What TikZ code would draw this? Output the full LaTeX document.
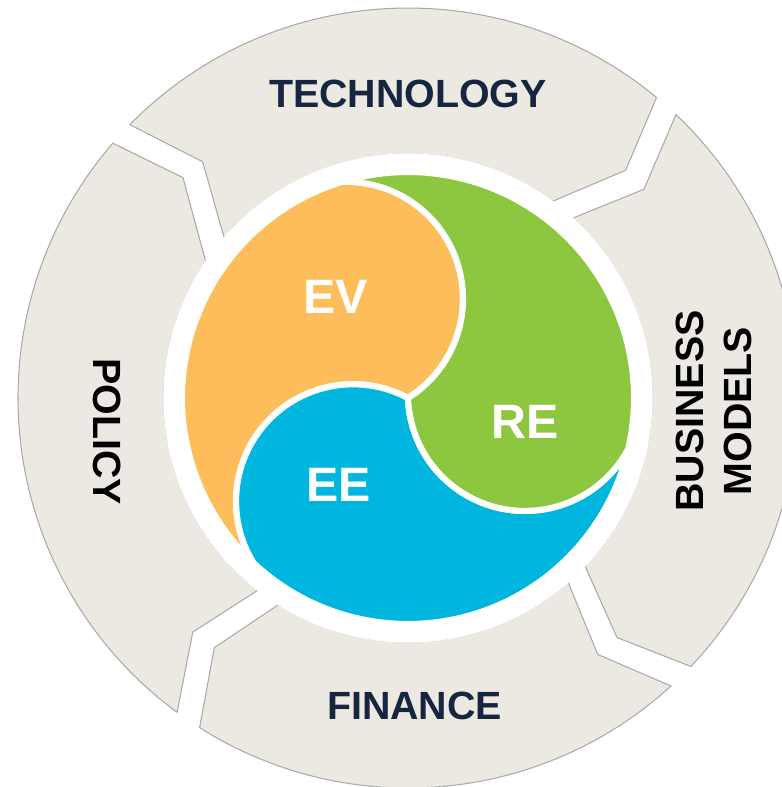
\documentclass[tikz,border=0pt]{standalone}
\usepackage{fontspec}
\setmainfont{Liberation Sans}
\usepackage{xcolor}
\usepackage{tikz}

\definecolor{ringgray}{RGB}{235,233,225}
\definecolor{ringline}{RGB}{170,170,170}
\definecolor{navy}{RGB}{23,38,64}
\definecolor{evorange}{RGB}{253,189,90}
\definecolor{regreen}{RGB}{141,198,63}
\definecolor{eeblue}{RGB}{0,182,222}

\tikzset{
  segment/.style={fill=ringgray, draw=ringline, line width=0.6pt, line join=miter},
  lobe/.style={draw=white, line width=3.5pt, line join=round},
  ringlabel/.style={inner sep=0pt, align=center, font=\fontsize{22.4}{27.2}\selectfont\bfseries},
  lobelabel/.style={inner sep=0pt, text=white, font=\fontsize{27.5}{33}\selectfont\bfseries}
}

\begin{document}
\begin{tikzpicture}[x=0.02cm, y=0.02cm]
				\useasboundingbox (-408,-389) rectangle (373,398);
				\fill[white] (-408,-389) rectangle (373,398);

				% outer ring: four chevron segments, clockwise
				\path[segment] (135.5:390) arc[start angle=135.5, end angle=50.4, radius=390]
					-- (46.3:315) -- (53.7:244) arc[start angle=53.7, end angle=138.9, radius=244]
					-- (131.0:313) -- cycle;
				\path[segment] (46.6:390) arc[start angle=46.6, end angle=-43.5, radius=390]
					-- (-48.9:318) -- (-43.5:244) arc[start angle=-43.5, end angle=47.5, radius=244]
					-- (41.5:315) -- cycle;
				\path[segment] (-47.6:390) arc[start angle=-47.6, end angle=-122.3, radius=390]
					-- (-127.8:316) -- (-122.1:244) arc[start angle=-122.1, end angle=-49.0, radius=244]
					-- (-53.5:319) -- cycle;
				\path[segment] (233.7:390) arc[start angle=233.7, end angle=139.2, radius=390]
					-- (135.6:315) -- (146.0:244) arc[start angle=146.0, end angle=232.0, radius=244]
					-- (227.4:318) -- cycle;
				% white disc hides the inner edges of the segments
				\fill[white] (0,0) circle[radius=244.6];

				\node[ringlabel, text=navy] (tech) at (0, 304) {TECHNOLOGY};
				\node[ringlabel, rotate=90] (biz) at (306, -13) {BUSINESS\\MODELS};
				\node[ringlabel, text=navy] (fin) at (6.5, -308) {FINANCE};
				\node[ringlabel, rotate=-90] (pol) at (-301, -33.5) {POLICY};

				% inner swirl: three lobes, each rim arc + two circle arcs
				\filldraw[lobe, fill=evorange] (107:226) arc[start angle=107, end angle=227, radius=226]
					arc[start angle=212, end angle=62, radius=117]
					arc[start angle=-58, end angle=92, radius=117] -- cycle;
				\filldraw[lobe, fill=eeblue] (227:226) arc[start angle=227, end angle=347, radius=226]
					arc[start angle=332, end angle=182, radius=117]
					arc[start angle=62, end angle=212, radius=117] -- cycle;
				\filldraw[lobe, fill=regreen] (347:226) arc[start angle=347, end angle=467, radius=226]
					arc[start angle=92, end angle=-58, radius=117]
					arc[start angle=182, end angle=332, radius=117] -- cycle;

				\node[lobelabel] (ev) at (-72, 101.5) {EV};
				\node[lobelabel] (re) at (117, -24) {RE};
				\node[lobelabel] (ee) at (-69.5, -86.5) {EE};
\end{tikzpicture}
\end{document}
